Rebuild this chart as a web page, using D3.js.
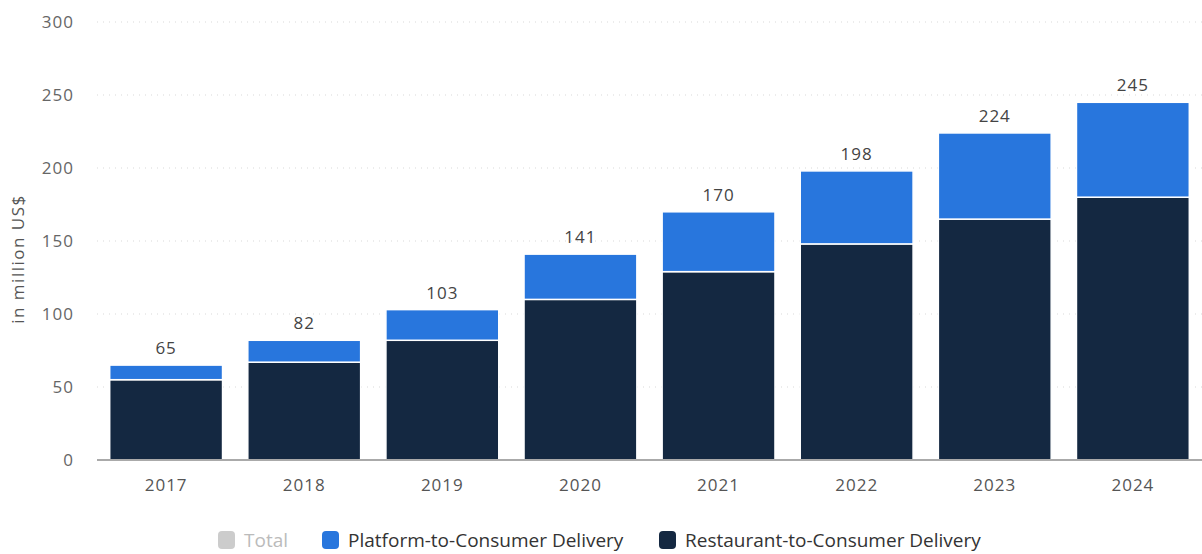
<!DOCTYPE html>
<html>
<head>
<meta charset="utf-8">
<script src="https://cdn.jsdelivr.net/npm/d3@7"></script>
<style>
  body { margin: 0; background: #fff; }
  svg text { font-family: "Open Sans", "DejaVu Sans", sans-serif; }
</style>
</head>
<body>
<svg id="chart"></svg>
<script>
// chart data
const years = ["2017", "2018", "2019", "2020", "2021", "2022", "2023", "2024"];
const restaurant = [55, 67, 82, 110, 129, 148, 165, 180];
const platform = [10, 15, 21, 31, 41, 50, 59, 65];
const totals = [65, 82, 103, 141, 170, 198, 224, 245];
const yTicks = [0, 50, 100, 150, 200, 250, 300];
const seriesNames = ["Platform-to-Consumer Delivery", "Restaurant-to-Consumer Delivery"];

const width = 1202, height = 554;
const margin = { top: 22, right: 0, bottom: 94, left: 97 };
const innerW = width - margin.left - margin.right;
const innerH = height - margin.top - margin.bottom;

const colors = { platform: "#2876dd", restaurant: "#142841" };

const svg = d3.select("#chart").attr("width", width).attr("height", height);
const chart = svg.append("g").attr("transform", `translate(${margin.left},${margin.top})`);

const xScale = d3.scaleBand().domain(years).range([0, innerW]).paddingInner(0.183).paddingOuter(0.092);
const yScale = d3.scaleLinear().domain([0, 300]).range([innerH, 0]);

// grid lines
chart.append("g")
  .selectAll("line")
  .data(yTicks.filter(d => d > 0))
  .join("line")
  .attr("x1", 0)
  .attr("x2", innerW)
  .attr("y1", d => yScale(d))
  .attr("y2", d => yScale(d))
  .attr("stroke", "#d9d9d9")
  .attr("stroke-width", 1)
  .attr("stroke-dasharray", "1,5");

// y axis labels
const yAxis = d3.axisLeft(yScale).tickValues(yTicks).tickSize(0).tickPadding(23);
chart.append("g")
  .call(yAxis)
  .call(g => g.select(".domain").remove())
  .selectAll("text")
  .attr("fill", "#666")
  .style("font-size", "17px")
  .style("letter-spacing", "1px");

// stacked data
const rows = years.map((y, i) => ({ year: y, restaurant: restaurant[i], platform: platform[i], total: totals[i] }));
const stack = d3.stack().keys(["restaurant", "platform"]);
const stacked = stack(rows);

chart.append("g")
  .selectAll("g")
  .data(stacked)
  .join("g")
  .attr("fill", d => colors[d.key])
  .selectAll("rect")
  .data(d => d)
  .join("rect")
  .attr("x", d => xScale(d.data.year))
  .attr("width", xScale.bandwidth())
  .attr("y", d => yScale(d[1]))
  .attr("height", d => yScale(d[0]) - yScale(d[1]))
  .attr("stroke", "#fff")
  .attr("stroke-width", 1.5);

// baseline
chart.append("line")
  .attr("x1", 0).attr("x2", innerW)
  .attr("y1", innerH).attr("y2", innerH)
  .attr("stroke", "#aaa")
  .attr("stroke-width", 2);

// total labels
chart.append("g")
  .selectAll("text")
  .data(rows)
  .join("text")
  .attr("x", d => xScale(d.year) + xScale.bandwidth() / 2)
  .attr("y", d => yScale(d.total) - 11)
  .attr("text-anchor", "middle")
  .attr("fill", "#444")
  .style("font-size", "17px")
  .style("letter-spacing", "1px")
  .text(d => d.total);

// x axis labels
const xAxis = d3.axisBottom(xScale).tickSize(0).tickPadding(19);
chart.append("g")
  .attr("transform", `translate(0,${innerH})`)
  .call(xAxis)
  .call(g => g.select(".domain").remove())
  .selectAll("text")
  .attr("fill", "#555")
  .style("font-size", "17px")
  .style("letter-spacing", "1px");

// y axis title
svg.append("text")
  .attr("transform", `translate(24,${margin.top + innerH / 2 + 18}) rotate(-90)`)
  .attr("text-anchor", "middle")
  .attr("fill", "#555")
  .style("font-size", "17px")
  .style("letter-spacing", "1.5px")
  .text("in million US$");

// legend
const legendItems = [
  { name: "Total", color: "#cccccc", text: "#bbb", x: 218 },
  { name: seriesNames[0], color: colors.platform, text: "#333", x: 322 },
  { name: seriesNames[1], color: colors.restaurant, text: "#333", x: 659 }
];
const legend = svg.append("g");
const li = legend.selectAll("g").data(legendItems).join("g")
  .attr("transform", d => `translate(${d.x},531)`);
li.append("rect")
  .attr("width", 17).attr("height", 18)
  .attr("rx", 4)
  .attr("fill", d => d.color);
li.append("text")
  .attr("x", 26).attr("y", 16)
  .attr("fill", d => d.text)
  .style("font-size", "19px")
  .text(d => d.name);
</script>
</body>
</html>
